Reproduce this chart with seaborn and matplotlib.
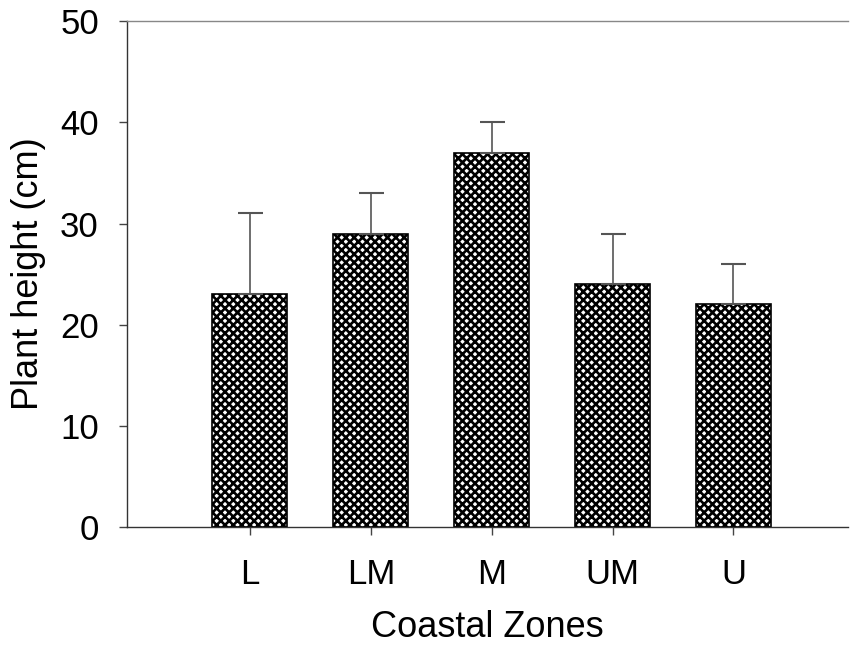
import matplotlib
matplotlib.use("Agg")
import matplotlib.pyplot as plt
import seaborn as sns
import pandas as pd

zones = ["L", "LM", "M", "UM", "U"]
heights = [23, 29, 37, 24, 22]
errors = [8, 4, 3, 5, 4]

sns.set_style("white")
plt.rcParams['font.family'] = ['Liberation Sans', 'DejaVu Sans']
plt.rcParams['hatch.linewidth'] = 1.9
plt.rcParams['hatch.color'] = '#111111'
plt.rcParams['text.color'] = 'black'

df = pd.DataFrame({"zone": zones, "height": heights})

fig = plt.figure(figsize=(8.5, 6.45), dpi=100)
ax = fig.add_axes([0.149, 0.183, 0.849, 0.784])

sns.barplot(data=df, x="zone", y="height", order=zones, ax=ax, width=0.62,
            color="white", edgecolor="black", linewidth=1.2, errorbar=None)
for p in ax.patches:
    p.set_hatch("xxxx")
    p.set_facecolor("white")

lower = [0] * len(errors)
ax.errorbar(range(len(zones)), heights, yerr=[lower, errors], fmt="none",
            ecolor="#555555", elinewidth=1.2, capsize=9, capthick=1.5, zorder=3)

ax.set_xlim(-1.02, 4.95)
ax.set_ylim(0, 50)
ax.set_yticks([0, 10, 20, 30, 40, 50])

for s in ["left", "bottom"]:
    ax.spines[s].set_color("#333333")
    ax.spines[s].set_linewidth(1.0)
ax.spines["top"].set_color("#888888")
ax.spines["top"].set_linewidth(1.0)
ax.spines["right"].set_visible(False)

ax.tick_params(axis="both", direction="out", length=6, width=1, color="#444444",
               labelsize=25, labelcolor="black", left=True, bottom=True)
ax.tick_params(axis="x", pad=16)
ax.tick_params(axis="y", pad=14)
ax.set_xlabel("Coastal Zones", fontsize=26, labelpad=14, color="black")
ax.set_ylabel("Plant height (cm)", fontsize=26, labelpad=10, color="black")

fig.savefig("out.png", dpi=100)
